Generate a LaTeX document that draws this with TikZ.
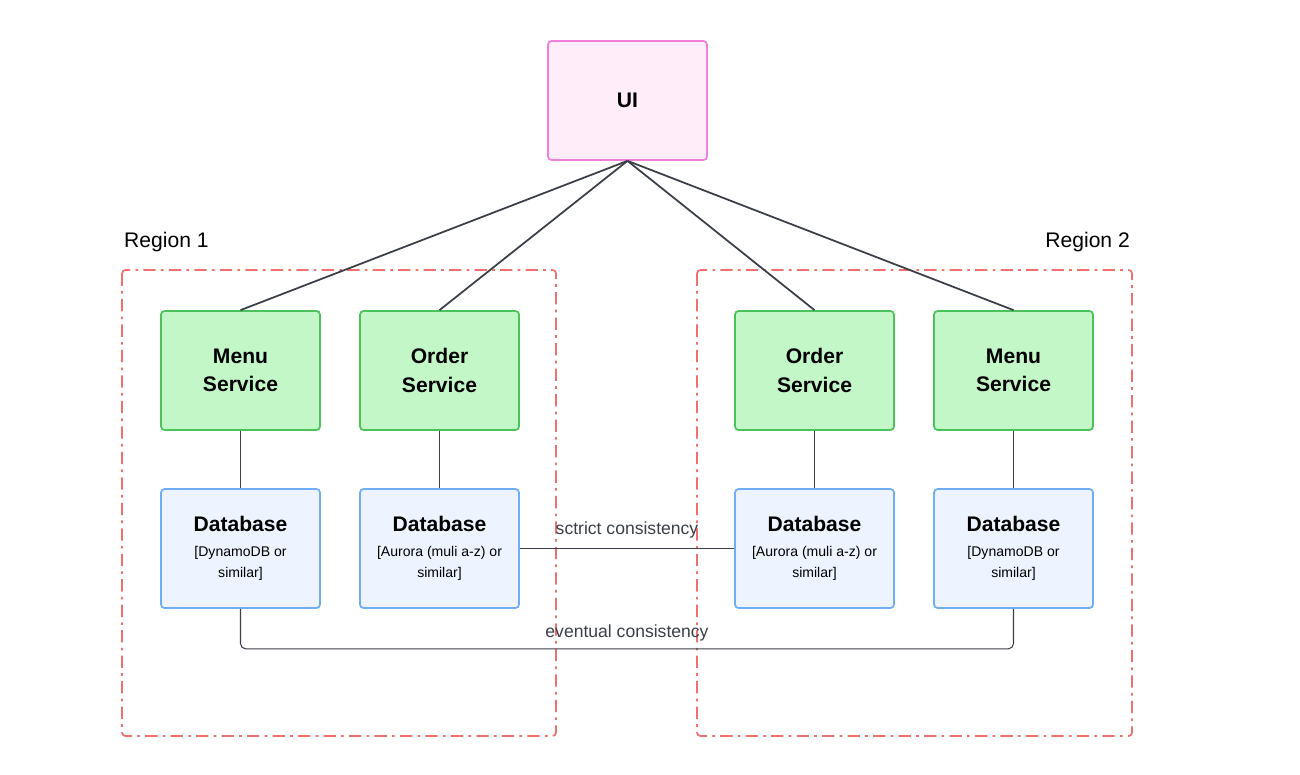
\documentclass[tikz,border=0pt]{standalone}
\usepackage{fontspec}
\setmainfont{Liberation Sans}
\usetikzlibrary{positioning,calc}
\definecolor{uifill}{HTML}{FFEEFA}
\definecolor{uiline}{HTML}{F07FE0}
\definecolor{svfill}{HTML}{C3F7C8}
\definecolor{svline}{HTML}{4CC35A}
\definecolor{dbfill}{HTML}{EDF4FF}
\definecolor{dbline}{HTML}{6FAEF5}
\definecolor{rgline}{HTML}{F07070}
\definecolor{cn}{HTML}{3A3F47}
\tikzset{bx/.style={draw,rounded corners=2pt,line width=1pt,minimum width=3.18cm,minimum height=2.38cm,align=center,inner sep=2pt}}
\tikzset{ui/.style={bx,fill=uifill,draw=uiline,font=\large\bfseries}}
\tikzset{sv/.style={bx,fill=svfill,draw=svline,font=\large\bfseries}}
\tikzset{db/.style={bx,fill=dbfill,draw=dbline}}
\tikzset{rg/.style={draw=rgline,line width=1pt,dash pattern=on 7pt off 3pt on 1.5pt off 3pt,rounded corners=2pt}}
\tikzset{cl/.style={draw=cn,line width=0.6pt}}
\newcommand{\dbtxt}[2]{\large\bfseries Database\\[2pt]\footnotesize\mdseries #1\\\footnotesize\mdseries #2}

\begin{document}
\begin{tikzpicture}[x=0.02cm,y=-0.02cm]
\useasboundingbox (0,0) rectangle (1300,774);
\draw[rg] (122,270) rectangle (556,736);
\draw[rg] (697,270) rectangle (1132,736);
\node[anchor=west,font=\large] (ra) at (118,242) {Region 1};
\node[anchor=east,font=\large] (rb) at (1136,242) {Region 2};

\node[ui] (ui) at (627.5,100.5) {UI};
\node[sv] (ma) at (240.5,370.5) {Menu\\[2pt]Service};
\node[sv] (oa) at (439.5,370.5) {Order\\[2pt]Service};
\node[sv] (ob) at (814.5,370.5) {Order\\[2pt]Service};
\node[sv] (mb) at (1013.5,370.5) {Menu\\[2pt]Service};
\node[db] (da) at (240.5,548.5) {\dbtxt{[DynamoDB or}{similar]}};
\node[db] (ea) at (439.5,548.5) {\dbtxt{[Aurora (muli a-z) or}{similar]}};
\node[db] (eb) at (814.5,548.5) {\dbtxt{[Aurora (muli a-z) or}{similar]}};
\node[db] (db) at (1013.5,548.5) {\dbtxt{[DynamoDB or}{similar]}};

\foreach \s in {ma,oa,ob,mb}
  \draw[cl,line width=1pt] (ui.south) -- (\s.north);
\draw[cl,line width=1pt] (ma) -- (da);
\draw[cl] (oa) -- (ea);
\draw[cl] (ob) -- (eb);
\draw[cl,line width=1pt] (mb) -- (db);
\draw[cl] (ea) -- node[above=2pt,font=\normalsize,text=cn] {sctrict consistency} (eb);
\draw[cl,rounded corners=3pt] (da.south) -- ++(0,40) -| node[pos=0.25,above=1pt,font=\normalsize,text=cn] {eventual consistency} (db.south);
\end{tikzpicture}
\end{document}
